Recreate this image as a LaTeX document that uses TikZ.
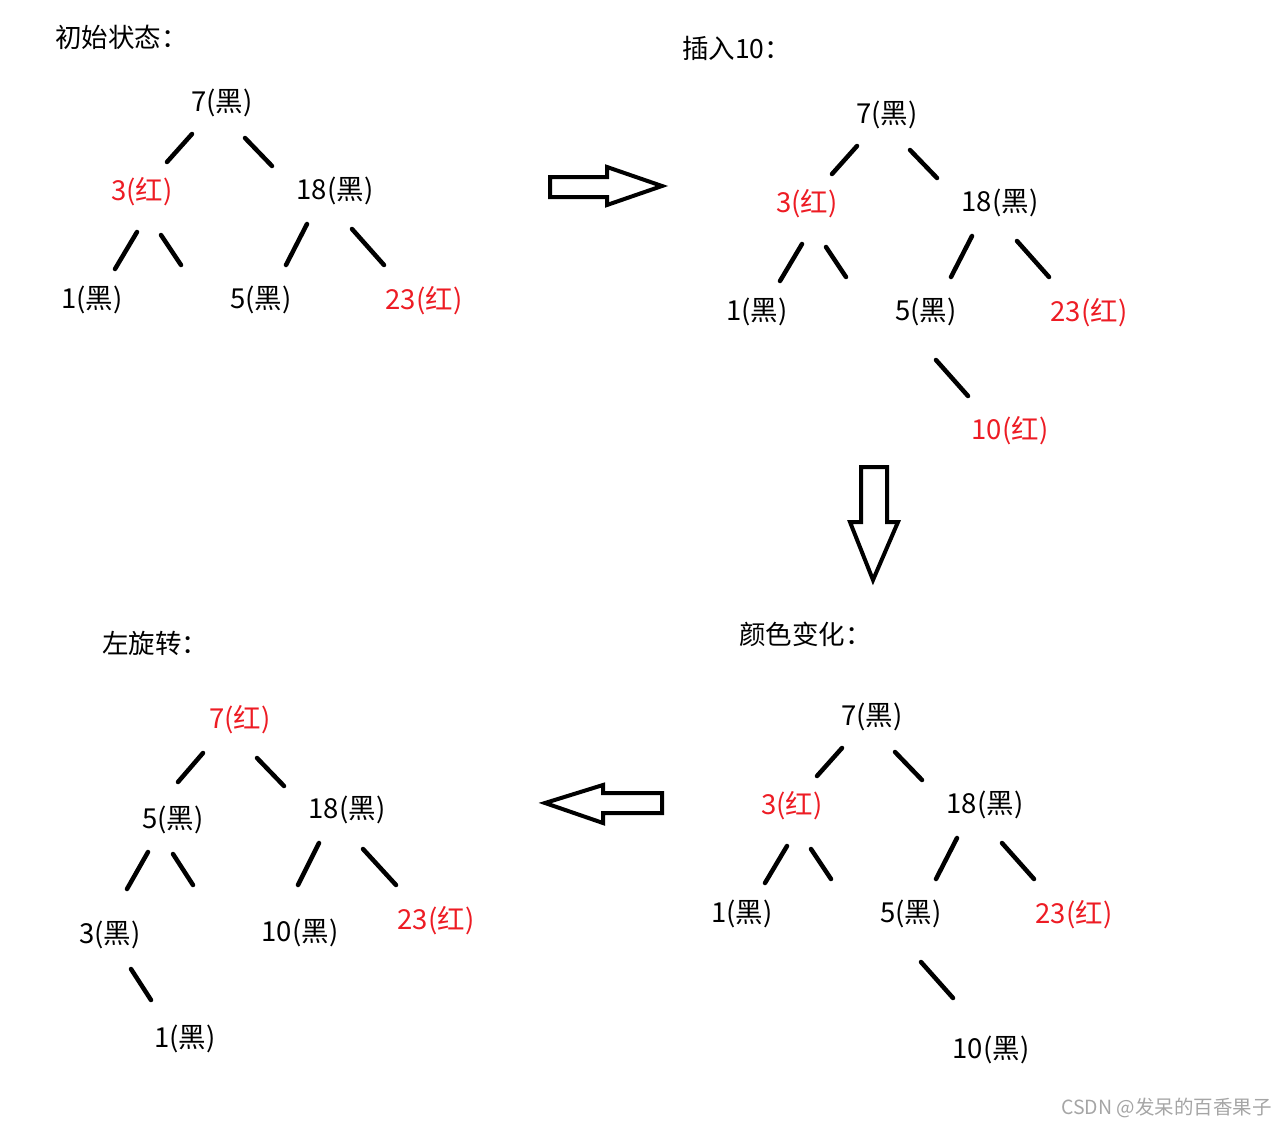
\documentclass[tikz,border=0pt]{standalone}
\usepackage{fontspec}
\setmainfont{Noto Sans CJK SC}
\usepackage{tikz}
\usetikzlibrary{calc}
\definecolor{nodered}{RGB}{237,28,36}
\definecolor{markgray}{RGB}{165,165,165}

\tikzset{
    knode/.style={font=\fontsize{27.5}{32}\selectfont, inner sep=0pt},
    rnode/.style={knode, text=nodered},
    headline/.style={font=\fontsize{26.5}{30}\selectfont, inner sep=0pt, anchor=west},
    branch/.style={line width=4.5pt, line cap=round},
    bigarrow/.style={line width=4pt, fill=white, line join=miter}
}

\begin{document}
\begin{tikzpicture}[x=1pt, y=-1pt]
    \useasboundingbox (0,0) rectangle (1287,1127);

    % initial state
    \node[headline] (h1) at (55,37) {初始状态：};
    \node[knode] (a7) at (222,103) {7(黑)};
    \node[rnode] (a3) at (142,192) {3(红)};
    \node[knode] (a18) at (335,191) {18(黑)};
    \node[knode] (a1) at (92,300) {1(黑)};
    \node[knode] (a5) at (261,300) {5(黑)};
    \node[rnode] (a23) at (424,301) {23(红)};
    \coordinate (ax) at (181,265);
    \draw[branch] ($(a7)+(-30,31)$) -- ($(a3)+(25,-30)$);
    \draw[branch] ($(a7)+(23,35)$) -- ($(a18)+(-63,-25)$);
    \draw[branch] ($(a3)+(-5,40)$) -- ($(a1)+(23,-31)$);
    \draw[branch] ($(a3)+(19,43)$) -- (ax);
    \draw[branch] ($(a18)+(-28,33)$) -- ($(a5)+(25,-35)$);
    \draw[branch] ($(a18)+(17,38)$) -- ($(a23)+(-40,-36)$);

    % insert 10
    \node[headline] (h2) at (682,48) {插入10：};
    \node[knode] (b7) at (887,115) {7(黑)};
    \node[rnode] (b3) at (807,204) {3(红)};
    \node[knode] (b18) at (1000,203) {18(黑)};
    \node[knode] (b1) at (757,312) {1(黑)};
    \node[knode] (b5) at (926,312) {5(黑)};
    \node[rnode] (b23) at (1089,313) {23(红)};
    \node[rnode] (b10) at (1010,431) {10(红)};
    \coordinate (bx) at (846,277);
    \draw[branch] ($(b7)+(-30,31)$) -- ($(b3)+(25,-30)$);
    \draw[branch] ($(b7)+(23,35)$) -- ($(b18)+(-63,-25)$);
    \draw[branch] ($(b3)+(-5,40)$) -- ($(b1)+(23,-31)$);
    \draw[branch] ($(b3)+(19,43)$) -- (bx);
    \draw[branch] ($(b18)+(-28,33)$) -- ($(b5)+(25,-35)$);
    \draw[branch] ($(b18)+(17,38)$) -- ($(b23)+(-40,-36)$);
    \draw[branch] ($(b5)+(10,48)$) -- ($(b10)+(-42,-35)$);

    % colour change
    \node[headline] (h4) at (739,634) {颜色变化：};
    \node[knode] (d7) at (872,717) {7(黑)};
    \node[rnode] (d3) at (792,806) {3(红)};
    \node[knode] (d18) at (985,805) {18(黑)};
    \node[knode] (d1) at (742,914) {1(黑)};
    \node[knode] (d5) at (911,914) {5(黑)};
    \node[rnode] (d23) at (1074,915) {23(红)};
    \node[knode] (d10) at (991,1050) {10(黑)};
    \coordinate (dx) at (831,879);
    \draw[branch] ($(d7)+(-30,31)$) -- ($(d3)+(25,-30)$);
    \draw[branch] ($(d7)+(23,35)$) -- ($(d18)+(-63,-25)$);
    \draw[branch] ($(d3)+(-5,40)$) -- ($(d1)+(23,-31)$);
    \draw[branch] ($(d3)+(19,43)$) -- (dx);
    \draw[branch] ($(d18)+(-28,33)$) -- ($(d5)+(25,-35)$);
    \draw[branch] ($(d18)+(17,38)$) -- ($(d23)+(-40,-36)$);
    \draw[branch] ($(d5)+(10,48)$) -- ($(d10)+(-38,-52)$);

    % left rotation
    \node[headline] (h3) at (102,643) {左旋转：};
    \node[rnode] (c7) at (240,720) {7(红)};
    \node[knode] (c5) at (173,820) {5(黑)};
    \node[knode] (c18) at (347,810) {18(黑)};
    \node[knode] (c3) at (110,935) {3(黑)};
    \node[knode] (c10) at (300,933) {10(黑)};
    \node[rnode] (c23) at (436,921) {23(红)};
    \node[knode] (c1) at (185,1039) {1(黑)};
    \coordinate (cx) at (193,885);
    \draw[branch] ($(c7)+(-37,33)$) -- ($(c5)+(5,-38)$);
    \draw[branch] ($(c7)+(17,38)$) -- ($(c18)+(-63,-24)$);
    \draw[branch] ($(c5)+(-25,32)$) -- ($(c3)+(17,-46)$);
    \draw[branch] ($(c5)+(0,34)$) -- (cx);
    \draw[branch] ($(c18)+(-28,33)$) -- ($(c10)+(-2,-48)$);
    \draw[branch] ($(c18)+(16,39)$) -- ($(c23)+(-40,-36)$);
    \draw[branch] ($(c3)+(21,34)$) -- ($(c1)+(-34,-39)$);

    % step arrows
    \draw[bigarrow] (550,177) -- (607,177) -- (607,167) -- (662,186) -- (607,205) -- (607,197) -- (550,197) -- cycle;
    \draw[bigarrow] (861,467) -- (887,467) -- (887,522) -- (898,522) -- (873,580) -- (850,522) -- (861,522) -- cycle;
    \draw[bigarrow] (662,793) -- (603,793) -- (603,785) -- (545,803) -- (603,823) -- (603,813) -- (662,813) -- cycle;

    \node[font=\fontsize{19.5}{22}\selectfont, text=markgray, inner sep=0pt, anchor=east] (mark) at (1272,1108) {CSDN @发呆的百香果子};
\end{tikzpicture}
\end{document}
